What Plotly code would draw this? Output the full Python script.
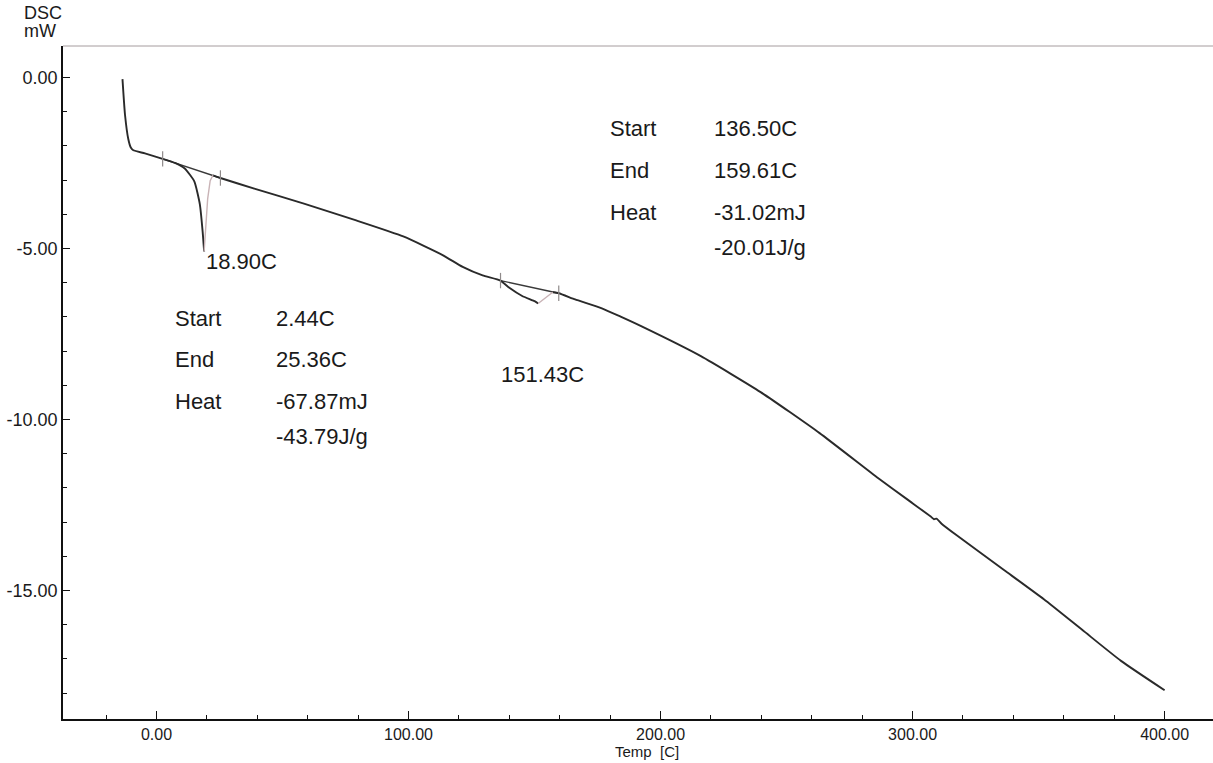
import numpy as np
import plotly.graph_objects as go

# DSC heat-flow curve (temperature in C, heat flow in mW)
temp_c = [-13.5, -12.5, -11.2, -10.2, -9.2, -4.6, 2.44, 7.3, 11.2, 15.0, 17.2, 18.3, 18.9,
          19.4, 20.3, 21.3, 22.4, 25.36, 38.8, 58.5, 78.3, 97.9, 113.7, 121.5, 129.4,
          136.5, 140.0, 145.1, 150.2, 151.43, 155.0, 157.2, 159.61, 166.1, 176.7, 184.6,
          192.5, 216.0, 239.7, 263.1, 286.4, 298.3, 307.2, 308.5, 309.5, 311.5, 317.5,
          336.4, 352.1, 367.4, 382.7, 400.0]
heat_mw = [-0.05, -1.09, -1.80, -2.05, -2.13, -2.22, -2.38, -2.50, -2.66, -3.04, -3.71, -4.50, -5.09,
           -4.40, -3.55, -3.02, -2.86, -2.94, -3.25, -3.69, -4.16, -4.65, -5.20, -5.54, -5.79,
           -5.94, -6.15, -6.39, -6.55, -6.61, -6.40, -6.28, -6.31, -6.49, -6.75, -7.01,
           -7.28, -8.15, -9.20, -10.40, -11.72, -12.36, -12.84, -12.92, -12.90, -13.05, -13.39,
           -14.41, -15.26, -16.16, -17.06, -17.92]

# fast return strokes after each peak (index ranges into the curve)
return_segments = [(12, 16), (29, 31)]

# baselines of the two analysed transitions
peak1_base_t = [2.44, 25.36]
peak1_base_mw = [-2.38, -2.94]
peak2_base_t = [136.50, 159.61]
peak2_base_mw = [-5.94, -6.31]

peak_temps = [18.90, 151.43]

x_ticks = [0, 100, 200, 300, 400]
x_tick_text = ["0.00", "100.00", "200.00", "300.00", "400.00"]
y_ticks = [0, -5, -10, -15]
y_tick_text = ["0.00", "-5.00", "-10.00", "-15.00"]

ink = "#2a2a2a"
pale = "#c9b3b6"
font_family = "Liberation Sans, Arial, sans-serif"

t = np.array(temp_c, dtype=float)
q = np.array(heat_mw, dtype=float)

# main pen trace: drop the interior points of the fast return strokes
q_main = q.copy()
for a, b in return_segments:
    q_main[a + 1:b] = np.nan

fig = go.Figure()

fig.add_trace(go.Scatter(x=peak1_base_t, y=peak1_base_mw, mode="lines",
                         line=dict(color="#3a3a3a", width=1.4), hoverinfo="skip"))
fig.add_trace(go.Scatter(x=peak2_base_t, y=peak2_base_mw, mode="lines",
                         line=dict(color="#3a3a3a", width=1.4), hoverinfo="skip"))

fig.add_trace(go.Scatter(x=t, y=q_main, mode="lines", connectgaps=False,
                         line=dict(color=ink, width=1.9, shape="spline", smoothing=0.5)))
for a, b in return_segments:
    fig.add_trace(go.Scatter(x=t[a:b + 1], y=q[a:b + 1], mode="lines",
                             line=dict(color=pale, width=1.4), hoverinfo="skip"))

# small vertical marks at the baseline limits
fig.add_trace(go.Scatter(x=peak1_base_t + peak2_base_t,
                         y=peak1_base_mw + peak2_base_mw,
                         mode="markers",
                         marker=dict(symbol="line-ns", size=11,
                                     line=dict(color="#8f8a8a", width=1.2)),
                         hoverinfo="skip"))

text_font = dict(family=font_family, size=22, color="#1a1a1a")


def add_text(x, y, s, **kw):
    fig.add_annotation(x=x, y=y, xref="x", yref="y", text=s, showarrow=False,
                       xanchor="left", yanchor="middle", font=text_font, **kw)


# peak temperature labels
peak1_mw = q[temp_c.index(peak_temps[0])]
add_text(peak_temps[0], peak1_mw, f"{peak_temps[0]:.2f}C", yshift=-10)
add_text(135.7, -8.70, f"{peak_temps[1]:.2f}C")

# transition reports
rows_left = [("Start", "2.44C"), ("End", "25.36C"), ("Heat", "-67.87mJ"), ("", "-43.79J/g")]
rows_right = [("Start", "136.50C"), ("End", "159.61C"), ("Heat", "-31.02mJ"), ("", "-20.01J/g")]
row_y_left = [-7.06, -8.26, -9.49, -10.51]
row_y_right = [-1.50, -2.73, -3.96, -4.98]
for (lab, val), yy in zip(rows_left, row_y_left):
    if lab:
        add_text(6.7, yy, lab)
    add_text(46.8, yy, val)
for (lab, val), yy in zip(rows_right, row_y_right):
    if lab:
        add_text(179.2, yy, lab)
    add_text(220.4, yy, val)

axis_font = dict(family=font_family, size=18, color="#1a1a1a")
x_tick_font = dict(family=font_family, size=16, color="#1a1a1a")

fig.add_annotation(x=-0.0357, y=1.049, xref="paper", yref="paper", text="DSC",
                   showarrow=False, xanchor="left", yanchor="middle", font=axis_font)
fig.add_annotation(x=-0.0357, y=1.022, xref="paper", yref="paper", text="mW",
                   showarrow=False, xanchor="left", yanchor="middle", font=axis_font)
fig.add_annotation(x=194.6, y=-0.0646, xref="x", yref="paper", text="Temp  [C]",
                   showarrow=False, xanchor="center", yanchor="bottom",
                   font=dict(family=font_family, size=15, color="#1a1a1a"))

# frame line along the top of the plot
fig.add_shape(type="line", xref="paper", yref="paper", x0=0, x1=1, y0=1, y1=1,
              line=dict(color="#a59c9e", width=1))

fig.update_xaxes(range=[-37.1, 419.2], tickmode="array", tickvals=x_ticks,
                 ticktext=x_tick_text, ticks="inside", ticklen=8, tickwidth=1.3,
                 tickcolor="#111", showline=True, linecolor="#111", linewidth=1.6,
                 showgrid=False, zeroline=False, tickfont=x_tick_font, automargin=False,
                 minor=dict(tickmode="array", tickvals=list(range(-20, 421, 20)),
                            ticks="inside", ticklen=4, tickwidth=1.2,
                            tickcolor="#111", showgrid=False))
fig.update_yaxes(range=[-18.76, 0.92], tickmode="array", tickvals=y_ticks,
                 ticktext=y_tick_text, ticks="inside", ticklen=7, tickwidth=1.3,
                 tickcolor="#111", showline=True, linecolor="#111", linewidth=1.6,
                 showgrid=False, zeroline=False, tickfont=axis_font, automargin=False,
                 minor=dict(tickmode="array", tickvals=list(range(-18, 1)),
                            ticks="inside", ticklen=4, tickwidth=1.2,
                            tickcolor="#111", showgrid=False))

fig.update_layout(width=1213, height=763, showlegend=False,
                  margin=dict(l=63, r=0, t=46, b=44),
                  paper_bgcolor="white", plot_bgcolor="white",
                  font=dict(family=font_family, color="#1a1a1a"))

fig.write_html("out.html")
